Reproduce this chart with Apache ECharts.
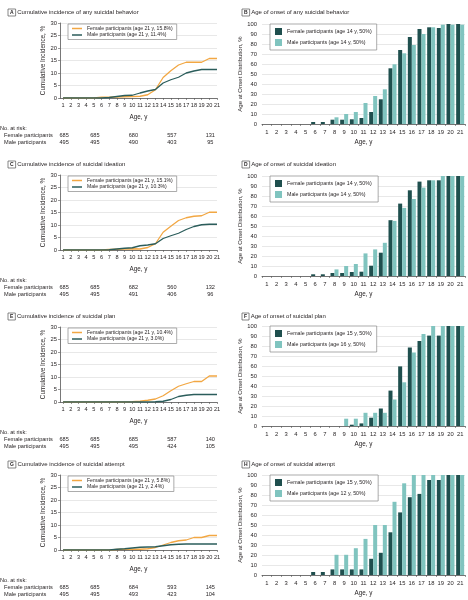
<!DOCTYPE html>
<html><head><meta charset="utf-8">
<script src="https://cdn.jsdelivr.net/npm/echarts@6/dist/echarts.min.js"></script>
<style>html,body{margin:0;padding:0;background:#fff}#c{width:468px;height:600px}</style>
</head><body><div id="c"></div>
<script>
// ---------- DATA ----------
const ages = [1,2,3,4,5,6,7,8,9,10,11,12,13,14,15,16,17,18,19,20,21];
const ageLabels = ['1','2','3','4','5','6','7','8','9','10','11','12','13','14','15','16','17','18','19','20','21'];
const riskAges = [1,5,10,15,20];

// Cumulative incidence (%), ages 1..21
const femaleA = [0,0,0,0,0,0.3,0.3,0.4,0.5,0.6,0.7,1.3,3.3,8.2,10.9,13.2,14.3,14.3,14.3,15.8,15.8];
const maleA   = [0,0,0,0,0,0,0.2,0.6,1.0,1.1,2.0,2.8,3.4,6.0,7.3,8.3,10.0,10.8,11.4,11.4,11.4];
const femaleC = [0,0,0,0,0,0,0.2,0.3,0.4,0.5,0.4,1.0,2.5,7.1,9.5,11.8,12.9,13.5,13.7,15.1,15.1];
const maleC   = [0,0,0,0,0,0,0.1,0.4,0.7,0.9,1.7,2.0,2.5,4.6,5.7,6.7,8.2,9.4,10.1,10.3,10.3];
const femaleE = [0,0,0,0,0,0,0,0,0,0.1,0.3,0.7,1.2,2.5,4.5,6.3,7.3,8.2,8.2,10.4,10.4];
const maleE   = [0,0,0,0,0,0,0,0,0,0,0,0,0.1,0.3,1.0,2.2,2.7,3.0,3.0,3.0,3.0];
const femaleG = [0,0,0,0,0,0,0,0.2,0.3,0.3,0.3,0.5,1.0,2.0,3.0,3.7,4.0,5.0,5.0,5.8,5.8];
const maleG   = [0,0,0,0,0,0,0,0.3,0.5,0.8,1.1,1.2,1.3,1.7,2.1,2.3,2.4,2.4,2.4,2.4,2.4];

// Age at onset distribution (%), ages 1..21
const femaleB = [0,0,0,0,0,2,2,4.3,4.3,4.7,6,12,24.7,55.7,74,87,95,96.7,96,100,100];
const maleB   = [0,0,0,0,0,0,0,6.7,10,12,21,28,34.7,59.7,70.7,79,90,96.7,99.3,99.3,99.3];
const femaleD = [0,0,0,0,0,1.7,1.7,3,3,4,4.3,10.3,23.3,55.8,72.4,85.7,94.4,95.7,95.7,100,100];
const maleD   = [0,0,0,0,0,0,0,6.6,10,12,22.6,26.6,33.2,55.1,68.1,77,88.4,95.7,100,100,100];
const femaleF = [0,0,0,0,0,0,0,0,0,1.3,2.6,8.3,17.5,35.4,59.6,78.5,85,90.4,90.4,100,100];
const maleF   = [0,0,0,0,0,0,0,0,7.3,7.3,13.2,13.2,13.2,26.5,43.7,73.5,92,100,100,100,100];
const femaleH = [0,0,0,0,0,3,3,5.6,5.6,5.6,5.6,16.2,22.2,42.7,62.6,77.8,81.1,95,95,100,100];
const maleH   = [0,0,0,0,0,0,0,20.2,20.2,26.8,36.1,50,50,73.2,91.7,100,100,100,100,100,100];

// Numbers at risk at ages 1, 5, 10, 15, 20
const riskFemaleA = [685,685,680,557,131];
const riskMaleA   = [495,495,490,403,95];
const riskFemaleC = [685,685,682,560,132];
const riskMaleC   = [495,495,491,406,96];
const riskFemaleE = [685,685,685,587,140];
const riskMaleE   = [495,495,495,424,105];
const riskFemaleG = [685,685,684,593,145];
const riskMaleG   = [495,495,493,423,104];

// Texts
const lineLetters = ['A','C','E','G'];
const lineTitles = ['Cumulative incidence of any suicidal behavior','Cumulative incidence of suicidal ideation','Cumulative incidence of suicidal plan','Cumulative incidence of suicidal attempt'];
const lineFemaleNames = ['Female participants (age 21 y, 15.8%)','Female participants (age 21 y, 15.1%)','Female participants (age 21 y, 10.4%)','Female participants (age 21 y, 5.8%)'];
const lineMaleNames = ['Male participants (age 21 y, 11.4%)','Male participants (age 21 y, 10.3%)','Male participants (age 21 y, 3.0%)','Male participants (age 21 y, 2.4%)'];
const barLetters = ['B','D','F','H'];
const barTitles = ['Age of onset of any suicidal behavior','Age of onset of suicidal ideation','Age of onset of suicidal plan','Age of onset of suicidal attempt'];
const barFemaleNames = ['Female participants (age 14 y, 50%)','Female participants (age 14 y, 50%) ','Female participants (age 15 y, 50%)','Female participants (age 15 y, 50%) '];
const barMaleNames = ['Male participants (age 14 y, 50%)','Male participants (age 14 y, 50%) ','Male participants (age 16 y, 50%)','Male participants (age 12 y, 50%)'];

const lineFemale = [femaleA,femaleC,femaleE,femaleG];
const lineMale = [maleA,maleC,maleE,maleG];
const barFemale = [femaleB,femaleD,femaleF,femaleH];
const barMale = [maleB,maleD,maleF,maleH];
const riskFemale = [riskFemaleA,riskFemaleC,riskFemaleE,riskFemaleG];
const riskMale = [riskMaleA,riskMaleC,riskMaleE,riskMaleG];

// ---------- STYLE / LAYOUT ----------
const FONT = '"Liberation Sans",Arial,sans-serif';
const TXT = '#231f20';
const ORANGE = '#f2a743';
const DARK = '#2b5d5b';
const BAR_DARK = '#1f4f4e';
const BAR_LIGHT = '#80c4bf';
const GRIDC = '#d8d8d8';

const lineTops = [23,175,327,475];
const lineH = 75;
const barTops = [24,176,326,475];
const barH = 100;

const chart = echarts.init(document.getElementById('c'), null, {renderer:'canvas'});

const grid=[], xAxis=[], yAxis=[], series=[], legend=[], title=[];
const titleRich = {b:{fontFamily:FONT,fontSize:5,fontWeight:'bold',color:TXT,borderColor:'#555',borderWidth:0.7,padding:[1.5,2,0.5,2]}};

for (let i=0;i<4;i++){
  // line panel
  const g = grid.length;
  grid.push({left:60, top:lineTops[i], width:157, height:lineH, containLabel:false});
  xAxis.push({type:'value', gridIndex:g, min:0.6, max:21,
    name:'Age, y', nameLocation:'middle', nameGap:16, nameTextStyle:{fontFamily:FONT,fontSize:6.3,color:TXT},
    axisLine:{show:true,lineStyle:{color:'#555',width:0.8}},
    axisTick:{show:true,length:2,lineStyle:{color:'#555',width:0.6},customValues:ages},
    axisLabel:{fontFamily:FONT,fontSize:5.6,color:TXT,margin:4,customValues:ages,hideOverlap:false},
    splitLine:{show:false}});
  yAxis.push({type:'value', gridIndex:g, min:0, max:30, interval:5,
    name:'Cumulative Incidence, %', nameLocation:'middle', nameGap:14, nameTextStyle:{fontFamily:FONT,fontSize:6.3,color:TXT},
    axisLine:{show:true,lineStyle:{color:'#555',width:0.8}},
    axisTick:{show:true,length:2,lineStyle:{color:'#555',width:0.6}},
    axisLabel:{fontFamily:FONT,fontSize:5.8,color:TXT,margin:3},
    splitLine:{show:true,lineStyle:{color:GRIDC,width:0.6}}});
  series.push({type:'line', name:lineFemaleNames[i], xAxisIndex:g, yAxisIndex:g,
    data:ages.map((a,k)=>[a,lineFemale[i][k]]), symbol:'none', lineStyle:{color:ORANGE,width:1.3}, itemStyle:{color:ORANGE}, z:3});
  series.push({type:'line', name:lineMaleNames[i], xAxisIndex:g, yAxisIndex:g,
    data:ages.map((a,k)=>[a,lineMale[i][k]]), symbol:'none', lineStyle:{color:DARK,width:1.3}, itemStyle:{color:DARK}, z:4});
  legend.push({data:[lineFemaleNames[i],lineMaleNames[i]], left:68, top:lineTops[i]+1, orient:'vertical',
    backgroundColor:'#fff', borderColor:'#888', borderWidth:0.7, padding:[2,4,2,4], itemGap:1.5,
    icon:'rect', itemWidth:10, itemHeight:1.5,
    textStyle:{fontFamily:FONT,fontSize:5.1,color:TXT}, selectedMode:false});
  title.push({text:'{b|'+lineLetters[i]+'} '+lineTitles[i], left:3, top:lineTops[i]-19,
    textStyle:{fontFamily:FONT,fontSize:6,fontWeight:'normal',color:TXT,rich:titleRich}});

  // bar panel
  const h = grid.length;
  grid.push({left:262, top:barTops[i], width:203, height:barH, containLabel:false});
  xAxis.push({type:'category', gridIndex:h, data:ageLabels,
    name:'Age, y', nameLocation:'middle', nameGap:15, nameTextStyle:{fontFamily:FONT,fontSize:6.3,color:TXT},
    axisLine:{show:true,lineStyle:{color:'#555',width:0.8}},
    axisTick:{show:true,length:2,lineStyle:{color:'#555',width:0.6}},
    axisLabel:{fontFamily:FONT,fontSize:5.8,color:TXT,margin:5,interval:0}});
  yAxis.push({type:'value', gridIndex:h, min:0, max:100, interval:10,
    name:'Age at Onset Distribution, %', nameLocation:'middle', nameGap:15, nameTextStyle:{fontFamily:FONT,fontSize:6,color:TXT},
    axisLine:{show:false}, axisTick:{show:false},
    axisLabel:{fontFamily:FONT,fontSize:5.8,color:TXT,margin:5},
    splitLine:{show:true,lineStyle:{color:GRIDC,width:0.6}}});
  series.push({type:'bar', name:barFemaleNames[i], xAxisIndex:h, yAxisIndex:h, data:barFemale[i],
    barWidth:4, barGap:'0%', itemStyle:{color:BAR_DARK}});
  series.push({type:'bar', name:barMaleNames[i], xAxisIndex:h, yAxisIndex:h, data:barMale[i],
    barWidth:4, barGap:'0%', itemStyle:{color:BAR_LIGHT}});
  legend.push({data:[barFemaleNames[i],barMaleNames[i]], left:270, top:barTops[i], orient:'vertical',
    backgroundColor:'#fff', borderColor:'#888', borderWidth:0.7, padding:[4,5,4,5], itemGap:4,
    icon:'rect', itemWidth:7, itemHeight:7,
    textStyle:{fontFamily:FONT,fontSize:5.3,color:TXT}, selectedMode:false});
  title.push({text:'{b|'+barLetters[i]+'} '+barTitles[i], left:237, top:lineTops[i]-19,
    textStyle:{fontFamily:FONT,fontSize:6,fontWeight:'normal',color:TXT,rich:titleRich}});
}

chart.setOption({animation:false, backgroundColor:'#fff', title, grid, xAxis, yAxis, series, legend});

// At-risk table positioned through the axis scales
const graphic = [];
for (let i=0;i<4;i++){
  const g = i*2;
  const bottom = lineTops[i]+lineH;
  graphic.push({type:'text', left:0, top:bottom+27, style:{text:'No. at risk:', font:'5.6px '+FONT, fill:TXT}});
  graphic.push({type:'text', left:4, top:bottom+34, style:{text:'Female participants', font:'5.6px '+FONT, fill:TXT}});
  graphic.push({type:'text', left:4, top:bottom+41, style:{text:'Male participants', font:'5.6px '+FONT, fill:TXT}});
  riskAges.forEach((a,k)=>{
    const px = chart.convertToPixel({gridIndex:g}, [a,0])[0];
    graphic.push({type:'text', x:px+1, y:bottom+34, style:{text:String(riskFemale[i][k]), font:'5.6px '+FONT, fill:TXT, align:'center', verticalAlign:'top'}});
    graphic.push({type:'text', x:px+1, y:bottom+41, style:{text:String(riskMale[i][k]), font:'5.6px '+FONT, fill:TXT, align:'center', verticalAlign:'top'}});
  });
}
chart.setOption({graphic});
</script></body></html>
